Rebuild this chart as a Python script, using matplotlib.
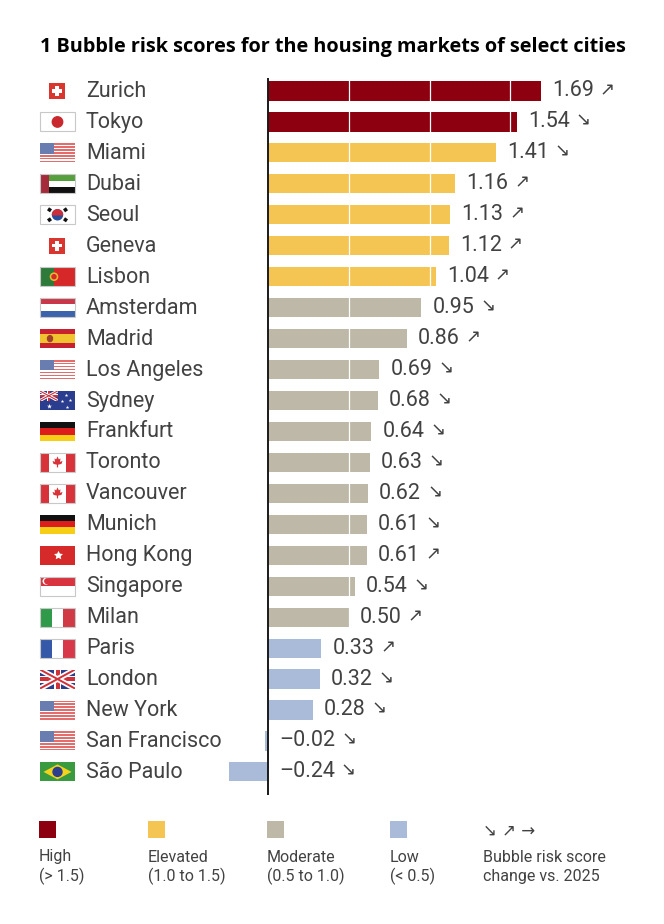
import matplotlib
matplotlib.use("Agg")
import matplotlib.pyplot as plt
import matplotlib.transforms as mt
from matplotlib.patches import Rectangle, Ellipse, Polygon, Circle, Wedge
import numpy as np

# ---------------- data ----------------
cities = ["Zurich", "Tokyo", "Miami", "Dubai", "Seoul", "Geneva", "Lisbon",
          "Amsterdam", "Madrid", "Los Angeles", "Sydney", "Frankfurt", "Toronto",
          "Vancouver", "Munich", "Hong Kong", "Singapore", "Milan", "Paris",
          "London", "New York", "San Francisco", "São Paulo"]
scores = [1.69, 1.54, 1.41, 1.16, 1.13, 1.12, 1.04,
          0.95, 0.86, 0.69, 0.68, 0.64, 0.63,
          0.62, 0.61, 0.61, 0.54, 0.50, 0.33,
          0.32, 0.28, -0.02, -0.24]
trend = ["↗", "↘", "↘", "↗", "↗", "↗", "↗",
         "↘", "↗", "↘", "↘", "↘", "↘",
         "↘", "↘", "↗", "↘", "↗", "↗",
         "↘", "↘", "↘", "↘"]
flags = ["CH", "JP", "US", "AE", "KR", "CH", "PT",
         "NL", "ES", "US", "AU", "DE", "CA",
         "CA", "DE", "HK", "SG", "IT", "FR",
         "GB", "US", "US", "BR"]
legend_names = ["High", "Elevated", "Moderate", "Low"]
legend_ranges = ["(> 1.5)", "(1.0 to 1.5)", "(0.5 to 1.0)", "(< 0.5)"]
thresholds = [1.5, 1.0, 0.5]

C_HIGH, C_ELEV, C_MOD, C_LOW = "#8C0010", "#F5C553", "#BDB8A8", "#AABBDA"
cat_colors = [C_HIGH, C_ELEV, C_MOD, C_LOW]

def color_for(v):
    if v > thresholds[0]:
        return C_HIGH
    if v >= thresholds[1]:
        return C_ELEV
    if v >= thresholds[2]:
        return C_MOD
    return C_LOW

FONT = ["Roboto", "DejaVu Sans"]
TFONT = ["Open Sans", "DejaVu Sans"]
TXT = "#424242"
WEIGHT = "normal"

W, H = 664, 924
fig = plt.figure(figsize=(W / 100, H / 100), dpi=100)
renderer = fig.canvas.get_renderer()

# pixel geometry
x0_px, px_per_unit = 268.0, 161.5
row0_px, row_step = 91.0, 30.95
ax_l, ax_r, ax_t, ax_b = 20, 644, 60, 800

ax = fig.add_axes([ax_l / W, 1 - ax_b / H, (ax_r - ax_l) / W, (ax_b - ax_t) / H])
ax.set_xlim((ax_l - x0_px) / px_per_unit, (ax_r - x0_px) / px_per_unit)
ax.set_ylim((ax_b - row0_px) / row_step, (ax_t - row0_px) / row_step)
ax.axis("off")

rows = np.arange(len(cities))
ax.barh(rows, scores, height=0.62, color=[color_for(v) for v in scores],
        zorder=2, linewidth=0)
for g in [0.5, 1.0, 1.5]:
    ax.vlines(g, -0.35, 22.35, color="white", lw=0.9, zorder=3)
ax.vlines(1.5, -0.35, 2.35, color="#e4e4e4", lw=0.8, zorder=1)
ax.vlines(0, -0.42, 22.75, color="#1a1a1a", lw=1.4, zorder=4)

# value labels
off = 11 / px_per_unit
for i, (v, t) in enumerate(zip(scores, trend)):
    s = ("–%.2f" % abs(v)) if v < 0 else "%.2f" % v
    xpos = max(v, 0) + off
    txt = ax.text(xpos, i, s, va="center", ha="left", fontsize=15.5,
                  color=TXT, family=FONT, fontweight=WEIGHT, zorder=5)
    wpx = txt.get_window_extent(renderer=renderer).width
    ax.annotate(t, (xpos, i), xytext=(wpx + 6, 1),
                textcoords="offset pixels", va="center", ha="left",
                fontsize=13, color=TXT, family=["DejaVu Sans"], zorder=5)

# overlay axes in pixel coordinates
ov = fig.add_axes([0, 0, 1, 1])
ov.set_xlim(0, W)
ov.set_ylim(H, 0)
ov.axis("off")

def rect(x, y, w, h, c, **kw):
    p = Rectangle((x, y), w, h, facecolor=c, edgecolor="none", **kw)
    ov.add_patch(p)
    return p

def border(x, y, w, h):
    ov.add_patch(Rectangle((x, y), w, h, facecolor="none", edgecolor="#c8c8c8", lw=0.8))

def draw_flag(code, yc):
    fx, fw, fh = 40, 35, 19
    fy = yc - fh / 2
    if code == "CH":
        s = 16
        cx = 57
        rect(cx - s / 2, yc - s / 2, s, s, "#D8362E")
        rect(cx - 5, yc - 1.6, 10, 3.2, "white")
        rect(cx - 1.6, yc - 5, 3.2, 10, "white")
    elif code == "JP":
        rect(fx, fy, fw, fh, "white")
        border(fx, fy, fw, fh)
        ov.add_patch(Circle((fx + fw / 2, yc), 5.2, color="#C8282E"))
    elif code == "US":
        for k in range(13):
            rect(fx, fy + k * fh / 13, fw, fh / 13 + 0.05,
                 "#E36D6D" if k % 2 == 0 else "white")
        rect(fx, fy, fw * 0.4, fh * 7 / 13, "#6A7DB0")
    elif code == "AE":
        rect(fx, fy, fw, fh / 3, "#55A03C")
        rect(fx, fy + fh / 3, fw, fh / 3, "white")
        rect(fx, fy + 2 * fh / 3, fw, fh / 3, "#111111")
        rect(fx, fy, fw * 0.27, fh, "#A52A3A")
        border(fx, fy, fw, fh)
    elif code == "KR":
        rect(fx, fy, fw, fh, "white")
        border(fx, fy, fw, fh)
        cx = fx + fw / 2
        ov.add_patch(Circle((cx, yc), 5, color="#2B4E9C"))
        ov.add_patch(Wedge((cx, yc), 5, 180, 360, color="#CD2E3A"))
        for dx, dy, ang in [(-8, -5, 35), (8, -5, -35), (-8, 5, -35), (8, 5, 35)]:
            ln, = ov.plot([cx + dx - 1.8, cx + dx + 1.8], [yc + dy, yc + dy],
                          color="#111111", lw=2.6, solid_capstyle="butt")
            tr = mt.Affine2D().rotate_deg_around(cx + dx, yc + dy, ang)
            ln.set_transform(tr + ov.transData)
    elif code == "PT":
        rect(fx, fy, fw * 0.4, fh, "#2E7A3A")
        rect(fx + fw * 0.4, fy, fw * 0.6, fh, "#D62828")
        ov.add_patch(Circle((fx + fw * 0.4, yc), 3.6, color="#E8B92E"))
        ov.add_patch(Circle((fx + fw * 0.4, yc), 2.0, color="#D62828"))
        border(fx, fy, fw, fh)
    elif code == "NL":
        rect(fx, fy, fw, fh / 3, "#C8384A")
        rect(fx, fy + fh / 3, fw, fh / 3, "white")
        rect(fx, fy + 2 * fh / 3, fw, fh / 3, "#3B64AD")
        border(fx, fy, fw, fh)
    elif code == "ES":
        rect(fx, fy, fw, fh, "#C8202F")
        rect(fx, fy + fh / 4, fw, fh / 2, "#F0C230")
        ov.add_patch(Ellipse((fx + 10, yc), 5, 6, color="#A0402A"))
    elif code == "AU":
        rect(fx, fy, fw, fh, "#2A3D8F")
        cw, chh = fw / 2, fh / 2
        clip = Rectangle((fx, fy), cw, chh, transform=ov.transData)
        for (a, b, c, d, col, lw) in [(fx, fy, fx + cw, fy + chh, "white", 2.2),
                                       (fx, fy + chh, fx + cw, fy, "white", 2.2),
                                       (fx, fy, fx + cw, fy + chh, "#D0303A", 0.8),
                                       (fx, fy + chh, fx + cw, fy, "#D0303A", 0.8)]:
            ln, = ov.plot([a, c], [b, d], color=col, lw=lw, solid_capstyle="butt")
            ln.set_clip_path(clip)
        rect(fx + cw / 2 - 1.5, fy, 3, chh, "white")
        rect(fx, fy + chh / 2 - 1.5, cw, 3, "white")
        rect(fx + cw / 2 - 0.8, fy, 1.6, chh, "#D0303A")
        rect(fx, fy + chh / 2 - 0.8, cw, 1.6, "#D0303A")
        for sx, sy, ss in [(fx + 9, fy + 14.5, 14), (fx + 26, fy + 4, 7), (fx + 30, fy + 9, 7),
                           (fx + 22, fy + 10, 7), (fx + 27, fy + 16, 7)]:
            ov.scatter([sx], [sy], marker="*", s=ss, color="white", linewidths=0)
    elif code == "DE":
        rect(fx, fy, fw, fh / 3, "#111111")
        rect(fx, fy + fh / 3, fw, fh / 3, "#DD1C1C")
        rect(fx, fy + 2 * fh / 3, fw, fh / 3, "#F6CE16")
    elif code == "CA":
        rect(fx, fy, fw, fh, "white")
        rect(fx, fy, fw / 4, fh, "#D8333A")
        rect(fx + 3 * fw / 4, fy, fw / 4, fh, "#D8333A")
        cx = fx + fw / 2
        leaf = [(0, -6), (1.3, -3), (3, -4), (2.5, -0.5), (5, -1.5), (4, 1.5),
                (0.6, 2.3), (0.6, 5), (-0.6, 5), (-0.6, 2.3), (-4, 1.5), (-5, -1.5),
                (-2.5, -0.5), (-3, -4), (-1.3, -3)]
        ov.add_patch(Polygon([(cx + a, yc + b) for a, b in leaf], closed=True,
                             facecolor="#D8333A", edgecolor="none"))
        border(fx, fy, fw, fh)
    elif code == "HK":
        rect(fx, fy, fw, fh, "#D62A2A")
        ov.scatter([fx + fw / 2], [yc], marker=(5, 1, 0), s=45, color="white",
                   linewidths=0)
    elif code == "SG":
        rect(fx, fy, fw, fh, "white")
        rect(fx, fy, fw, fh / 2, "#D8333F")
        ov.add_patch(Circle((fx + 6, fy + 4.5), 2.8, color="white"))
        ov.add_patch(Circle((fx + 7.2, fy + 4.5), 2.4, color="#D8333F"))
        border(fx, fy, fw, fh)
    elif code == "IT":
        rect(fx, fy, fw / 3, fh, "#2F9A4A")
        rect(fx + fw / 3, fy, fw / 3, fh, "white")
        rect(fx + 2 * fw / 3, fy, fw / 3, fh, "#D03A45")
        border(fx, fy, fw, fh)
    elif code == "FR":
        rect(fx, fy, fw / 3, fh, "#3559A8")
        rect(fx + fw / 3, fy, fw / 3, fh, "white")
        rect(fx + 2 * fw / 3, fy, fw / 3, fh, "#D8394A")
        border(fx, fy, fw, fh)
    elif code == "GB":
        rect(fx, fy, fw, fh, "#2B3E8C")
        clip = Rectangle((fx, fy), fw, fh, transform=ov.transData)
        for (col, lw) in [("white", 4.0), ("#D0303A", 1.4)]:
            for (a, b, c, d) in [(fx, fy, fx + fw, fy + fh), (fx, fy + fh, fx + fw, fy)]:
                ln, = ov.plot([a, c], [b, d], color=col, lw=lw, solid_capstyle="butt")
                ln.set_clip_path(clip)
        rect(fx + fw / 2 - 3.5, fy, 7, fh, "white")
        rect(fx, yc - 3.5, fw, 7, "white")
        rect(fx + fw / 2 - 2, fy, 4, fh, "#D0303A")
        rect(fx, yc - 2, fw, 4, "#D0303A")
    elif code == "BR":
        rect(fx, fy, fw, fh, "#3A9A3F")
        cx = fx + fw / 2
        ov.add_patch(Polygon([(cx - 14, yc), (cx, yc - 7.5), (cx + 14, yc), (cx, yc + 7.5)],
                             closed=True, facecolor="#F4D31E", edgecolor="none"))
        ov.add_patch(Circle((cx, yc), 4.5, color="#2C3F8F"))

for i, (name, fl) in enumerate(zip(cities, flags)):
    yc = row0_px + row_step * i
    draw_flag(fl, yc)
    ov.text(86, yc + 0.5, name, va="center", ha="left", fontsize=15.5, color=TXT,
            family=FONT, fontweight=WEIGHT)

# title
ov.text(40, 47, "1 Bubble risk scores for the housing markets of select cities",
        ha="left", va="center", fontsize=14.3, fontweight="bold", color="black",
        family=TFONT)

# legend
leg_x = [39, 148, 267, 390]
for x, c, n, r in zip(leg_x, cat_colors, legend_names, legend_ranges):
    rect(x, 821, 17, 17, c)
    ov.text(x, 857, n, ha="left", va="center", fontsize=11.5, color=TXT,
            family=FONT, fontweight=WEIGHT)
    ov.text(x, 876, r, ha="left", va="center", fontsize=11.5, color=TXT,
            family=FONT, fontweight=WEIGHT)
ov.text(483, 831, "↘ ↗ →", ha="left", va="center", fontsize=12, color=TXT,
        family=["DejaVu Sans"])
ov.text(483, 857, "Bubble risk score", ha="left", va="center", fontsize=11.5,
        color=TXT, family=FONT, fontweight=WEIGHT)
ov.text(483, 876, "change vs. 2025", ha="left", va="center", fontsize=11.5,
        color=TXT, family=FONT, fontweight=WEIGHT)

fig.savefig("out.png", dpi=100)
